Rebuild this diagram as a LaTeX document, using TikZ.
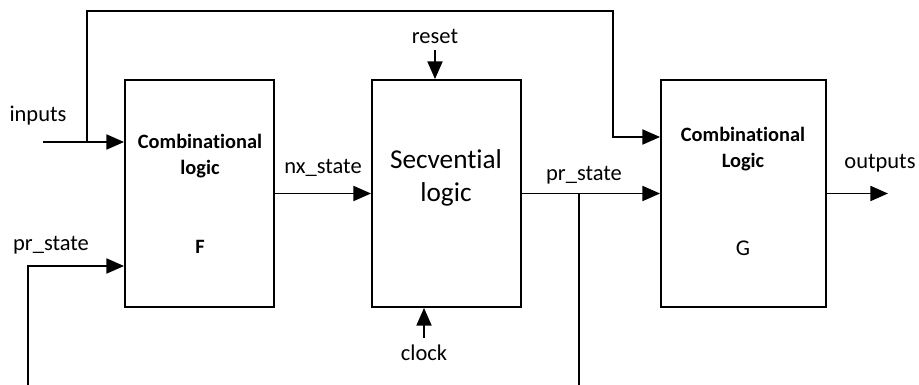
\documentclass[tikz,border=0pt]{standalone}
\usepackage{fontspec}
\setmainfont[Ligatures=NoCommon]{Carlito}
\usepackage{tikz}
\usetikzlibrary{calc,arrows.meta}

\tikzset{
  blok/.style={draw,line width=1.1pt,minimum height=4.54cm,inner sep=0pt},
  lbl/.style={font=\fontsize{12.8}{15}\selectfont,inner sep=0pt},
  titl/.style={font=\fontsize{11.6}{14.5}\selectfont\bfseries,align=center,inner sep=0pt},
}

\begin{document}
\begin{tikzpicture}[x=0.02cm,y=-0.02cm,line width=1.1pt,>={Triangle[length=10pt,width=8.5pt]}]
	 \useasboundingbox(0,0)rectangle(919,385);
	 % blocks
	 \node[blok,minimum width=2.98cm](F)at(199.5,193.5){};
	 \node[blok,minimum width=2.98cm](S)at(446.5,193.5){};
	 \node[blok,minimum width=3.3cm](G)at(743.5,193.5){};
	 \node[titl](Ft)at(200,156){Combinational\\logic};
	 \node[titl](Fn)at(200,247){F};
	 \node[font=\fontsize{15.5}{19}\selectfont,align=center,inner sep=0pt](St)at(446,178){Secvential\\logic};
	 \node[titl](Gt)at(743,149){Combinational\\Logic};
	 \node[lbl](Gn)at(743,248){G};
	 % inputs
	 \coordinate(in)at(43,142);\coordinate(b1)at(87,142);
	 \coordinate(t1)at(87,11);\coordinate(t2)at(613,11);
	 \draw[->](in)--(in-|F.west);
	 \draw[->](b1)--(t1)--(t2)|-($(G.west)+(0,-56.5)$);
	 \node[lbl](inp)at(38,116){inputs};
	 % state
	 \draw[->](F.east)--(S.west);
	 \node[lbl](nx)at(323,168){nx\_state};
	 \draw[->](S.east)--(G.west);
	 \coordinate(b2)at(579,193.5);\coordinate(e2)at(579,385);
	 \draw(b2)--(e2);
	 \node[lbl](pr)at(584,175){pr\_state};
	 \coordinate(e1)at(28,385);
	 \draw[->](e1)|-($(F.west)+(0,72.5)$);
	 \node[lbl](pr2)at(51,245){pr\_state};
	 % outputs
	 \coordinate(out)at(888,193.5);
	 \draw[->](G.east)--(out);
	 \node[lbl](outp)at(880,163){outputs};
	 % reset, clock
	 \coordinate(rs)at(435,50);\coordinate(ck)at(424,338);
	 \draw[->](rs)--(rs|-S.north);
	 \draw[->](ck)--(ck|-S.south);
	 \node[lbl](rst)at(435,36){reset};
	 \node[lbl](clk)at(424,353){clock};
	\end{tikzpicture}
\end{document}
